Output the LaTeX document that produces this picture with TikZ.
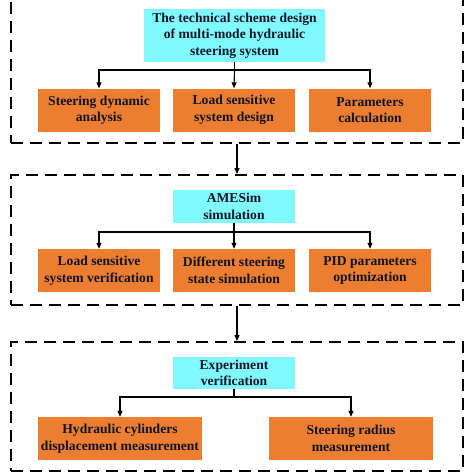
\documentclass[tikz,border=0pt]{standalone}
\usepackage{fontspec}
\setmainfont{Liberation Serif}
\usetikzlibrary{arrows.meta,positioning}
\definecolor{boxcyan}{RGB}{128,250,255}
\definecolor{boxorange}{RGB}{237,125,49}
\definecolor{inkdark}{RGB}{15,22,38}

\begin{document}
\begin{tikzpicture}[x=1pt,y=-1pt,
  cbox/.style={fill=boxcyan,text=inkdark,align=center,inner sep=0pt,font=\fontsize{13.6}{16.5}\selectfont\bfseries},
  obox/.style={fill=boxorange,text=inkdark,align=center,inner sep=0pt,minimum height=43pt,font=\fontsize{13.6}{16.5}\selectfont\bfseries},
  frame/.style={draw,line width=1.8pt,dash pattern=on 12pt off 7pt,inner sep=0pt},
  arr/.style={-{Triangle[length=6pt,width=5pt]},line width=1.1pt}]
\useasboundingbox (0,0) rectangle (474,474);

\node (f1) [frame,minimum width=452pt,minimum height=160pt] at (237,63) {};
\node (f2) [frame,minimum width=452pt,minimum height=130pt] at (237,240) {};
\node (f3) [frame,minimum width=452pt,minimum height=129pt] at (237,406.5) {};

\node (c1) [cbox,minimum width=181pt,minimum height=53pt] at (234.5,35.5) {The technical scheme design\\of multi-mode hydraulic\\steering system};
\node (o11) [obox,minimum width=122pt] at (99,110) {Steering dynamic\\analysis};
\node (o12) [obox,minimum width=122pt] at (234,110) {Load sensitive\\system design};
\node (o13) [obox,minimum width=122pt] at (370,110) {Parameters\\calculation};

\node (c2) [cbox,minimum width=122pt,minimum height=33pt] at (234,206.5) {AMESim\\simulation};
\node (o21) [obox,minimum width=122pt] at (99,270.5) {Load sensitive\\system verification};
\node (o22) [obox,minimum width=122pt] at (234,270.5) {Different steering\\state simulation};
\node (o23) [obox,minimum width=122pt] at (370,270.5) {PID parameters\\optimization};

\node (c3) [cbox,minimum width=122pt,minimum height=32pt] at (234,373) {Experiment\\verification};
\node (o31) [obox,minimum width=164pt] at (120,438.5) {Hydraulic cylinders\\displacement measurement};
\node (o32) [obox,minimum width=164pt] at (351,438.5) {Steering radius\\measurement};

% branches
\coordinate (b1) at (c1.south |- 0,70);
\draw[line width=1.1pt] (c1.south)--(b1);
\draw[arr] (b1)-|(o11.north);
\draw[arr] (b1)--(o12.north);
\draw[arr] (b1)-|(o13.north);

\coordinate (b2) at (c2.south |- 0,232);
\draw[line width=1.1pt] (c2.south)--(b2);
\draw[arr] (b2)-|(o21.north);
\draw[arr] (b2)--(o22.north);
\draw[arr] (b2)-|(o23.north);

\coordinate (b3) at (c3.south |- 0,397);
\draw[line width=1.1pt] (c3.south)--(b3);
\draw[arr] (b3)-|(o31.north);
\draw[arr] (b3)-|(o32.north);

\draw[arr] (f1.south)--(f2.north);
\draw[arr] (f2.south)--(f3.north);
\end{tikzpicture}
\end{document}
